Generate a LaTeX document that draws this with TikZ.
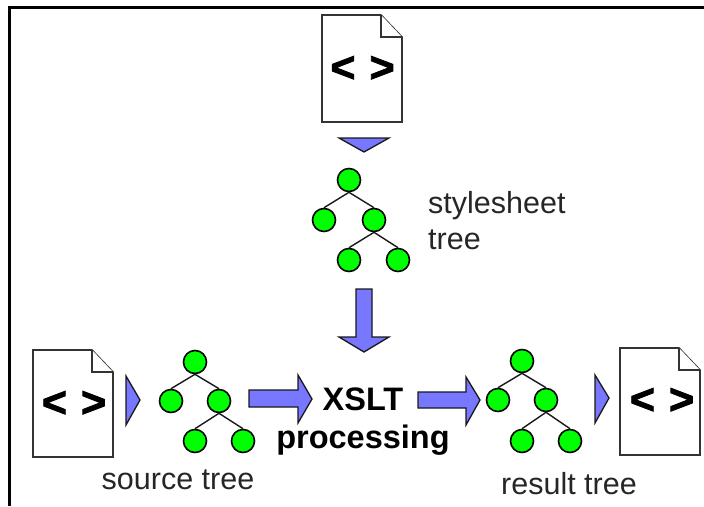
\documentclass[tikz,border=0pt]{standalone}
\usepackage{fontspec}
\setmainfont{Liberation Sans}
\newfontface\docmarkfont[FakeBold=2]{Liberation Sans Bold}
\usetikzlibrary{shapes,positioning}
\definecolor{treegreen}{RGB}{0,255,0}
\definecolor{arrowblue}{RGB}{119,119,255}
\tikzset{tree node/.style={circle, draw=black, fill=treegreen, line width=1.6pt, inner sep=0pt, minimum size=23pt}}
\tikzset{tree edge/.style={draw=black!90, line width=1.4pt}}
\tikzset{doc page/.style={draw=black!80, fill=white, line width=1.6pt, line join=miter}}
\tikzset{doc mark/.style={font=\docmarkfont\fontsize{43}{43}\selectfont, inner sep=0pt}}
\tikzset{block arrow/.style={draw=black!90, fill=arrowblue, line width=1.3pt}}
\tikzset{caption/.style={font=\fontsize{30.5}{36}\selectfont, text=black!85, inner sep=0pt}}
\tikzset{process/.style={font=\bfseries\fontsize{32.5}{38}\selectfont, inner sep=0pt}}

\begin{document}
\begin{tikzpicture}
  [x=1pt, y=-1pt]
  \useasboundingbox (0,0) rectangle (704,506);
  \draw [line width=3pt] (9.5,506) -- (9.5,7.5) -- (704,7.5);

  % documents
  \draw [doc page] (322,15) -- (381,15) -- (402,37) -- (402,122) -- (322,122) -- cycle;
  \draw [doc page] (381,15) -- (381,37) -- (402,37);
  \node [doc mark] (stylemark) at (362.5,69) {<\hspace{14pt}>};

  \draw [doc page] (33,350) -- (92,350) -- (113,372) -- (113,457) -- (33,457) -- cycle;
  \draw [doc page] (92,350) -- (92,372) -- (113,372);
  \node [doc mark] (sourcemark) at (74,404) {<\hspace{14pt}>};

  \draw [doc page] (620,348) -- (679,348) -- (700,370) -- (700,455) -- (620,455) -- cycle;
  \draw [doc page] (679,348) -- (679,370) -- (700,370);
  \node [doc mark] (resultmark) at (662,401) {<\hspace{14pt}>};

  % small triangles
  \draw [block arrow] (339,138) -- (389,138) -- (364,152) -- cycle;
  \draw [block arrow] (126,376) -- (126,425) -- (140,400) -- cycle;
  \draw [block arrow] (595,375) -- (595,423) -- (609,398) -- cycle;

  % block arrows
  \draw [block arrow] (356,289) -- (372,289) -- (372,337) -- (389,337) -- (364,352) -- (339,337) -- (356,337) -- cycle;
  \draw [block arrow] (249,390) -- (298,390) -- (298,375) -- (312,399) -- (298,423) -- (298,407) -- (249,407) -- cycle;
  \draw [block arrow] (418,392) -- (466,392) -- (466,377) -- (480,400) -- (466,425) -- (466,408) -- (418,408) -- cycle;

  \begin{scope}[shift={(349,180)}]
    \node [tree node] (sl0n0) at (  0, 0) {};
    \node [tree node] (sl1n0) at (-25,40) {};
    \node [tree node] (sl1n1) at ( 25,40) {};
    \node [tree node] (sl2n0) at (  0,80) {};
    \node [tree node] (sl2n1) at ( 49,80) {};
    \draw [tree edge] (sl0n0.south) -- (sl1n0.north);
    \draw [tree edge] (sl0n0.south) -- (sl1n1.north);
    \draw [tree edge] (sl1n1.south) -- (sl2n0.north);
    \draw [tree edge] (sl1n1.south) -- (sl2n1.north);
  \end{scope}

  \begin{scope}[shift={(195,362)}]
    \node [tree node] (tl0n0) at (  0, 0) {};
    \node [tree node] (tl1n0) at (-24,39) {};
    \node [tree node] (tl1n1) at ( 24,39) {};
    \node [tree node] (tl2n0) at (  0,79) {};
    \node [tree node] (tl2n1) at ( 48,79) {};
    \draw [tree edge] (tl0n0.south) -- (tl1n0.north);
    \draw [tree edge] (tl0n0.south) -- (tl1n1.north);
    \draw [tree edge] (tl1n1.south) -- (tl2n0.north);
    \draw [tree edge] (tl1n1.south) -- (tl2n1.north);
  \end{scope}

  \begin{scope}[shift={(522,361)}]
    \node [tree node] (rl0n0) at (  0, 0) {};
    \node [tree node] (rl1n0) at (-24,39) {};
    \node [tree node] (rl1n1) at ( 24,39) {};
    \node [tree node] (rl2n0) at (  0,80) {};
    \node [tree node] (rl2n1) at ( 48,80) {};
    \draw [tree edge] (rl0n0.south) -- (rl1n0.north);
    \draw [tree edge] (rl0n0.south) -- (rl1n1.north);
    \draw [tree edge] (rl1n1.south) -- (rl2n0.north);
    \draw [tree edge] (rl1n1.south) -- (rl2n1.north);
  \end{scope}

  % labels
  \node [caption, align=left, anchor=north west] (stylelabel) at (428,191) {stylesheet\\tree};
  \node [caption] (sourcelabel) at (178,480) {source tree};
  \node [caption] (resultlabel) at (569,484) {result tree};
  \node [process] (xslt)       at (363,399) {XSLT};
  \node [process] (processing) at (363,440) {processing};
\end{tikzpicture}
\end{document}
